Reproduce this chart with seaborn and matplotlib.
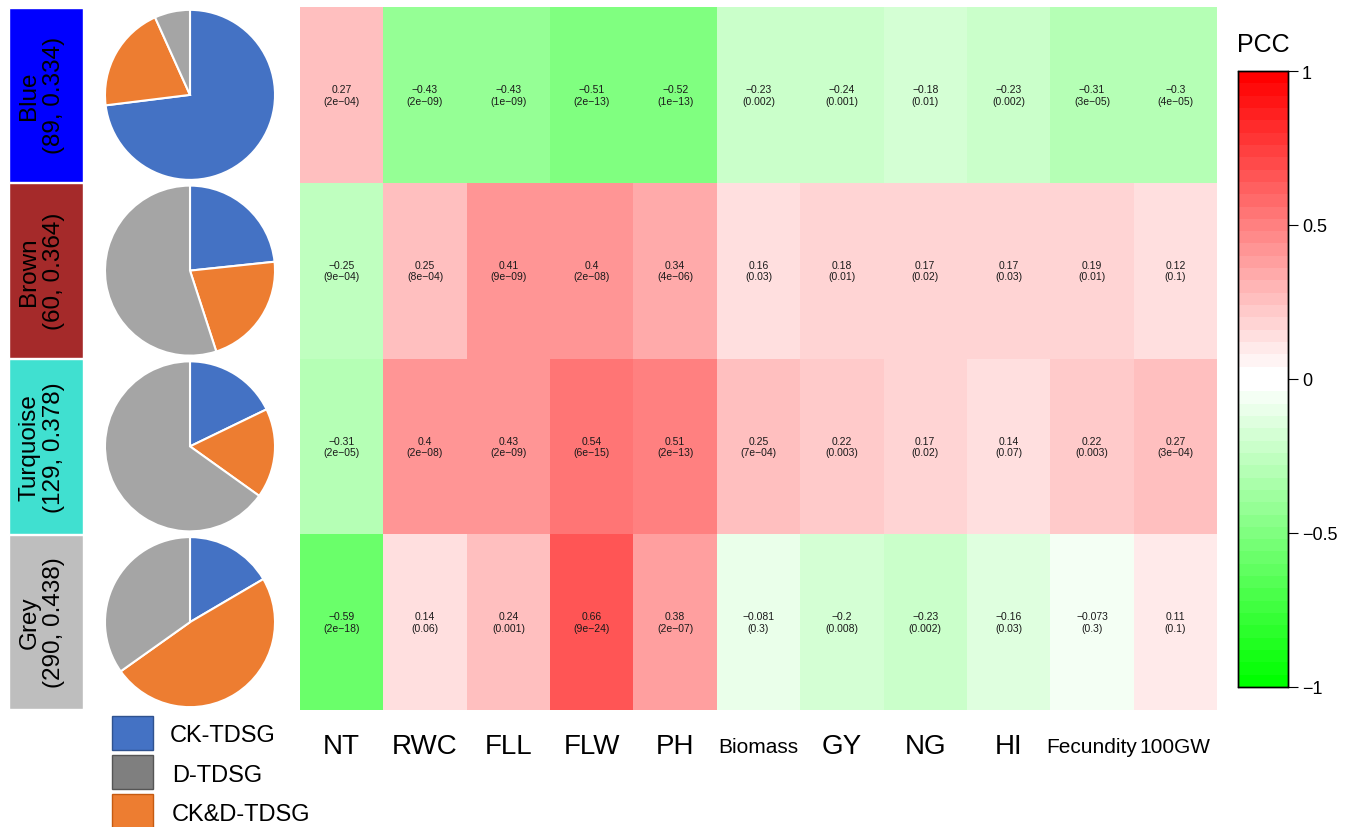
import numpy as np
import pandas as pd
import matplotlib
matplotlib.use("Agg")
import matplotlib.pyplot as plt
from matplotlib.colors import ListedColormap
from matplotlib.patches import Rectangle
import seaborn as sns

# ── Data ──────────────────────────────────────────────────
modules = ["Blue", "Brown", "Turquoise", "Grey"]
module_colors = ["#0000FF", "#A52A2A", "#40E0D0", "#BEBEBE"]
module_sizes = [89, 60, 129, 290]
module_scores = ["0.334", "0.364", "0.378", "0.438"]

traits = ["NT", "RWC", "FLL", "FLW", "PH", "Biomass", "GY", "NG", "HI", "Fecundity", "100GW"]

pcc_blue = [0.27, -0.43, -0.43, -0.51, -0.52, -0.23, -0.24, -0.18, -0.23, -0.31, -0.3]
pcc_brown = [-0.25, 0.25, 0.41, 0.4, 0.34, 0.16, 0.18, 0.17, 0.17, 0.19, 0.12]
pcc_turquoise = [-0.31, 0.4, 0.43, 0.54, 0.51, 0.25, 0.22, 0.17, 0.14, 0.22, 0.27]
pcc_grey = [-0.59, 0.14, 0.24, 0.66, 0.38, -0.081, -0.2, -0.23, -0.16, -0.073, 0.11]

p_blue = ["2e-04", "2e-09", "1e-09", "2e-13", "1e-13", "0.002", "0.001", "0.01", "0.002", "3e-05", "4e-05"]
p_brown = ["9e-04", "8e-04", "9e-09", "2e-08", "4e-06", "0.03", "0.01", "0.02", "0.03", "0.01", "0.1"]
p_turquoise = ["2e-05", "2e-08", "2e-09", "6e-15", "2e-13", "7e-04", "0.003", "0.02", "0.07", "0.003", "3e-04"]
p_grey = ["2e-18", "0.06", "0.001", "9e-24", "2e-07", "0.3", "0.008", "0.002", "0.03", "0.3", "0.1"]

# gene counts per group in each module
groups = ["CK-TDSG", "D-TDSG", "CK&D-TDSG"]
ck_counts = [65, 14, 23, 48]
ckd_counts = [18, 13, 22, 141]
d_counts = [6, 33, 84, 101]

# ── Style ────────────────────────────────────────────────
sns.set_style("white")
plt.rcParams["font.family"] = ["Liberation Sans", "DejaVu Sans"]
plt.rcParams["axes.unicode_minus"] = True
plt.rcParams["text.color"] = "black"
plt.rcParams["xtick.color"] = "black"
plt.rcParams["ytick.color"] = "black"
plt.rcParams["xtick.labelcolor"] = "black"
plt.rcParams["ytick.labelcolor"] = "black"

W, H = 1353, 828


def px(l, t, r, b):
    return [l / W, 1 - b / H, (r - l) / W, (b - t) / H]


# WGCNA-like greenWhiteRed(50)
n = 50
half = n // 2
up = np.linspace(0, 1, half)
down = np.linspace(0, 1, n - half)[::-1]
rgb = np.vstack([
    np.column_stack([up, np.ones(half), up]),
    np.column_stack([np.ones(n - half), down, down]),
])
cmap = ListedColormap(rgb)

pcc = pd.DataFrame([pcc_blue, pcc_brown, pcc_turquoise, pcc_grey], index=modules, columns=traits)
pvals = [p_blue, p_brown, p_turquoise, p_grey]
annot = np.array([[f"{r:g}\n({p})".replace("-", "\u2212") for r, p in zip(pcc.iloc[i], pvals[i])]
                  for i in range(len(modules))])

fig = plt.figure(figsize=(W / 100, H / 100), dpi=100)

# ── Heatmap ──────────────────────────────────────────────
ax_hm = fig.add_axes(px(300, 8, 1217, 711))
ax_cb = fig.add_axes(px(1238, 72, 1288, 688))
sns.heatmap(pcc, ax=ax_hm, cmap=cmap, vmin=-1, vmax=1, annot=annot, fmt="",
            annot_kws={"fontsize": 7.5, "color": "#1a1a1a"}, linewidths=0,
            cbar_ax=ax_cb, yticklabels=False)
ax_hm.set_xlabel("")
ax_hm.set_ylabel("")
ax_hm.tick_params(axis="x", length=0, pad=26)
for lab in ax_hm.get_xticklabels():
    lab.set_rotation(0)
    lab.set_va("center")
    lab.set_color("black")
    lab.set_fontsize(20 if len(lab.get_text()) <= 3 else 15)

# colorbar
ax_cb.set_yticks([-1, -0.5, 0, 0.5, 1])
ax_cb.set_yticklabels(["\u22121", "\u22120.5", "0", "0.5", "1"], fontsize=13, color="black")
ax_cb.tick_params(axis="y", length=7, width=0.8, pad=3, right=True, colors="black")
for s in ax_cb.spines.values():
    s.set_visible(True)
    s.set_color("black")
    s.set_linewidth(1)
fig.text(1263 / W, 1 - 45 / H, "PCC", ha="center", va="center", fontsize=18, color="black")

# ── Module label strip ───────────────────────────────────
ax_lab = fig.add_axes(px(9, 8, 83, 711))
ax_lab.barh(range(len(modules)), [1] * len(modules), height=0.994, left=0,
            color=module_colors)
ax_lab.set_xlim(0, 1)
ax_lab.set_ylim(len(modules) - 0.5, -0.5)
ax_lab.axis("off")
for i, (m, sz, sc) in enumerate(zip(modules, module_sizes, module_scores)):
    ax_lab.text(0.44, i, f"{m}\n({sz}, {sc})", rotation=90, ha="center", va="center",
                multialignment="center", fontsize=17.5, linespacing=1.15, color="black")

# ── Pies ─────────────────────────────────────────────────
row_h = (711 - 8) / len(modules)
pie_colors = ["#4472C4", "#ED7D31", "#A5A5A5"]
for i in range(len(modules)):
    cy = 8 + row_h * (i + 0.5)
    ax_p = fig.add_axes(px(190 - 88, cy - 88, 190 + 88, cy + 88))
    ax_p.pie([ck_counts[i], ckd_counts[i], d_counts[i]], colors=pie_colors,
             startangle=90, counterclock=False,
             wedgeprops={"edgecolor": "white", "linewidth": 1.5})
    ax_p.set_xlim(-1.035, 1.035)
    ax_p.set_ylim(-1.035, 1.035)
    ax_p.set_aspect("equal")

# ── Legend ───────────────────────────────────────────────
ax_leg = fig.add_axes(px(100, 711, 400, 828))
ax_leg.set_xlim(100, 400)
ax_leg.set_ylim(828, 711)
ax_leg.axis("off")
leg_fill = ["#4472C4", "#7F7F7F", "#ED7D31"]
leg_edge = ["#2F528F", "#555555", "#C55A11"]
leg_top = [717, 756, 795]
leg_ty = [736, 776, 815]
for g, fc, ec, top, ty in zip(groups, leg_fill, leg_edge, leg_top, leg_ty):
    ax_leg.add_patch(Rectangle((112, top), 41, 34, facecolor=fc, edgecolor=ec,
                               linewidth=1, clip_on=False))
    ax_leg.text(170 if g == "CK-TDSG" else 172, ty, g, ha="left", va="center",
                fontsize=17, color="black")

fig.savefig("out.png", dpi=100)
plt.close("all")
